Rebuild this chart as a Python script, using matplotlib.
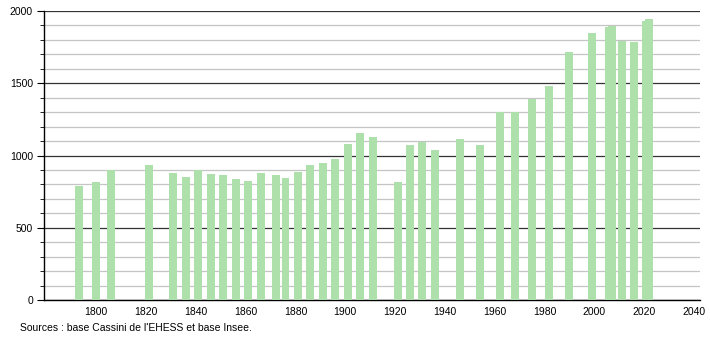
import matplotlib
matplotlib.use("Agg")
import matplotlib.pyplot as plt
from matplotlib.ticker import MultipleLocator

# census years and population
years = [1793, 1800, 1806, 1821, 1831, 1836, 1841, 1846, 1851, 1856,
         1861, 1866, 1872, 1876, 1881, 1886, 1891, 1896, 1901, 1906,
         1911, 1921, 1926, 1931, 1936, 1946, 1954, 1962, 1968, 1975,
         1982, 1990, 1999, 2006, 2007, 2011, 2016, 2021, 2022]
population = [789, 817, 900, 934, 877, 853, 897, 870, 865, 835,
              826, 881, 863, 842, 886, 932, 946, 973, 1080, 1153,
              1126, 817, 1070, 1096, 1038, 1112, 1073, 1299, 1299, 1393,
              1481, 1714, 1848, 1890, 1899, 1795, 1788, 1928, 1942]

x_ticks = [1800, 1820, 1840, 1860, 1880, 1900, 1920, 1940, 1960, 1980, 2000, 2020, 2040]
source = "Sources : base Cassini de l'EHESS et base Insee."

plt.rcParams['font.family'] = ['Liberation Sans', 'DejaVu Sans']

fig = plt.figure(figsize=(7.1, 3.4), dpi=100)
ax = fig.add_axes([44 / 710, 40 / 340, 656 / 710, 289 / 340])

ax.bar(years, population, width=3.2, color='#aee0ab', zorder=3)

ax.set_xlim(1779, 2042.5)
ax.set_ylim(0, 2000)
ax.set_xticks(x_ticks)
ax.yaxis.set_major_locator(MultipleLocator(500))
ax.yaxis.set_minor_locator(MultipleLocator(100))
ax.grid(axis='y', which='major', color='#333333', linewidth=0.9, zorder=1)
ax.grid(axis='y', which='minor', color='#c4c4c4', linewidth=0.9, zorder=1)

for s in ['top', 'right']:
    ax.spines[s].set_visible(False)
ax.spines['left'].set_color('#000000')
ax.spines['bottom'].set_color('#000000')
ax.spines['left'].set_linewidth(1)
ax.spines['bottom'].set_linewidth(1)

ax.tick_params(axis='x', length=0, labelsize=7.5, pad=5)
ax.tick_params(axis='y', which='major', length=5, labelsize=7.5, pad=3)
ax.tick_params(axis='y', which='minor', length=3)

fig.text(20 / 710, 1 - 328 / 340, source, fontsize=7.5, va='center', ha='left')

fig.savefig("out.png", dpi=100, facecolor='white')
